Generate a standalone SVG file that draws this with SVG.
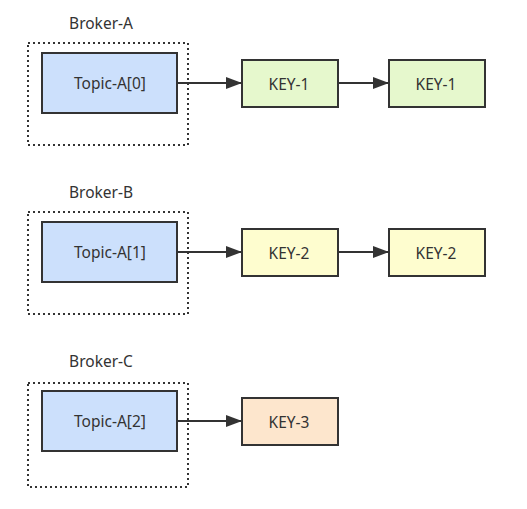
<svg xmlns="http://www.w3.org/2000/svg" width="527" height="509" viewBox="0 0 527 509">
<defs>
<marker id="ah" markerWidth="16" markerHeight="12" refX="16" refY="6" orient="auto" markerUnits="userSpaceOnUse">
<path d="M0,0 L16,6 L0,12 z" fill="#333"/>
</marker>
<style>
text{font-family:"Noto Sans","DejaVu Sans",sans-serif;font-size:15.5px;fill:#333;text-anchor:middle;dominant-baseline:central}
.broker{fill:none;stroke:#333;stroke-width:2;stroke-dasharray:2 3}
.node{stroke:#333;stroke-width:2}
.topic{fill:#cce0fc}
.k1{fill:#e6f8cd}
.k2{fill:#fefdcf}
.k3{fill:#fde6cd}
.conn{stroke:#333;stroke-width:2;fill:none;marker-end:url(#ah)}
</style>
</defs>
<g id="broker-a">
<text x="101" y="22.5">Broker-A</text>
<rect class="broker" x="28" y="43" width="160" height="102"/>
</g>
<g id="broker-b">
<text x="101" y="191.5">Broker-B</text>
<rect class="broker" x="28" y="212" width="160" height="102"/>
</g>
<g id="broker-c">
<text x="101" y="360.5">Broker-C</text>
<rect class="broker" x="28" y="383" width="160" height="104"/>
</g>
<g id="topic-a0"><rect class="node topic" x="42" y="53" width="135" height="60"/><text x="110" y="83">Topic-A[0]</text></g>
<g id="topic-a1"><rect class="node topic" x="42" y="222" width="135" height="60"/><text x="110" y="252">Topic-A[1]</text></g>
<g id="topic-a2"><rect class="node topic" x="42" y="391" width="135" height="60"/><text x="110" y="421">Topic-A[2]</text></g>
<g id="key1a"><rect class="node k1" x="242" y="60" width="96" height="47"/><text x="289" y="83.5">KEY-1</text></g>
<g id="key1b"><rect class="node k1" x="389" y="60" width="96" height="47"/><text x="436" y="83.5">KEY-1</text></g>
<g id="key2a"><rect class="node k2" x="242" y="229" width="96" height="47"/><text x="289" y="252.5">KEY-2</text></g>
<g id="key2b"><rect class="node k2" x="389" y="229" width="96" height="47"/><text x="436" y="252.5">KEY-2</text></g>
<g id="key3"><rect class="node k3" x="242" y="398" width="96" height="47"/><text x="289" y="421.5">KEY-3</text></g>
<g id="connectors">
<path class="conn" d="M177,83 L242,83"/>
<path class="conn" d="M338,83 L389,83"/>
<path class="conn" d="M177,252 L242,252"/>
<path class="conn" d="M338,252 L389,252"/>
<path class="conn" d="M177,421 L242,421"/>
</g>
</svg>
